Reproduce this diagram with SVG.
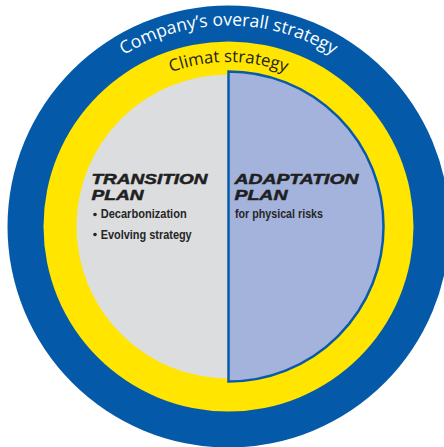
<svg xmlns="http://www.w3.org/2000/svg" width="444" height="447" viewBox="0 0 444 447">
  <style>
    .ring { font-family: "Open Sans", "Noto Sans", sans-serif; }
    .head { font-family: "Liberation Sans", Arial, sans-serif; font-weight: 900; font-style: italic; font-size: 15px; fill: #1f1f1f; stroke: #1f1f1f; stroke-width: 0.5; }
    .body { font-family: "Liberation Sans", Arial, sans-serif; font-weight: bold; font-size: 12px; fill: #262626; }
  </style>
  <defs>
    <path id="arcOuter" d="M27.5,226.5 A201,201 0 0 1 429.5,226.5"/>
    <path id="arcInner" d="M64,226.5 A164.5,164.5 0 0 1 393,226.5"/>
  </defs>
  <g id="company-strategy">
    <circle cx="228.5" cy="226.5" r="221" fill="#045AA8"/>
    <text class="ring" font-size="17.6" fill="#ffffff"><textPath href="#arcOuter" startOffset="50%" text-anchor="middle">Company’s overall strategy</textPath></text>
  </g>
  <g id="climat-strategy">
    <circle cx="228.5" cy="226.5" r="185" fill="#FFE500"/>
    <text class="ring" font-size="16.8" fill="#231F20"><textPath href="#arcInner" startOffset="50%" text-anchor="middle">Climat strategy</textPath></text>
  </g>
  <g id="transition-plan">
    <circle cx="228.5" cy="226.5" r="152" fill="#DCDDDF"/>
    <text class="head" x="91.5" y="183.5" textLength="116" lengthAdjust="spacingAndGlyphs">TRANSITION</text>
    <text class="head" x="91.5" y="199.5" textLength="52" lengthAdjust="spacingAndGlyphs">PLAN</text>
    <circle cx="95" cy="214.5" r="1.8" fill="#262626"/>
    <text class="body" x="100.7" y="218.3" textLength="86" lengthAdjust="spacingAndGlyphs">Decarbonization</text>
    <circle cx="95" cy="234.5" r="1.8" fill="#262626"/>
    <text class="body" x="100.7" y="238.5" textLength="91" lengthAdjust="spacingAndGlyphs">Evolving strategy</text>
  </g>
  <g id="adaptation-plan">
    <path d="M228.5,71.5 A155,155 0 0 1 228.5,381.5 Z" fill="#A3B3DB" stroke="#0A5AAA" stroke-width="2.5"/>
    <text class="head" x="234.5" y="183.5" textLength="124" lengthAdjust="spacingAndGlyphs">ADAPTATION</text>
    <text class="head" x="234.5" y="199.5" textLength="53" lengthAdjust="spacingAndGlyphs">PLAN</text>
    <text class="body" x="235" y="218.3" textLength="88" lengthAdjust="spacingAndGlyphs">for physical risks</text>
  </g>
  <g id="connectors"></g>
</svg>
